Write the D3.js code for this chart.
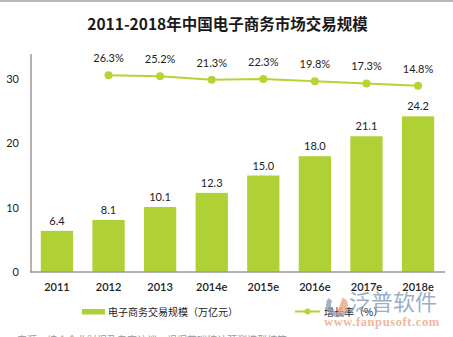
<!DOCTYPE html>
<html><head><meta charset="utf-8">
<script src="https://cdn.jsdelivr.net/npm/d3@7"></script>
<style>body{margin:0;background:#fff;overflow:hidden}</style></head><body>
<script>
const title = "2011-2018年中国电子商务市场交易规模";
const categories = ["2011","2012","2013","2014e","2015e","2016e","2017e","2018e"];
const scaleValues = [6.4, 8.1, 10.1, 12.3, 15.0, 18.0, 21.1, 24.2];
const growthCategories = ["2012","2013","2014e","2015e","2016e","2017e","2018e"];
const growthValues = [26.3, 25.2, 21.3, 22.3, 19.8, 17.3, 14.8];
const yTicks = [0, 10, 20, 30];
const legendLabels = ["电子商务交易规模（万亿元）", "增长率（%）"];

const W = 453, H = 337;
const barColor = "#afd136", lineColor = "#b5d435";
const numFont = "Lato, 'Open Sans', sans-serif";
const cjkFont = "'Noto Sans CJK SC', sans-serif";

const svg = d3.select("body").append("svg").attr("width", W).attr("height", H);

// top frame line
svg.append("line").attr("x1",0).attr("x2",W).attr("y1",1).attr("y2",1)
  .attr("stroke","#a0a0a0").attr("stroke-width",1.5);

svg.append("text").attr("x",227.5).attr("y",29.5).attr("text-anchor","middle")
  .attr("font-family",cjkFont).attr("font-weight","bold").attr("font-size",15.5)
  .attr("fill","#1a1a1a").text(title);

const x = d3.scaleBand().domain(categories).range([31, 444]).paddingInner(0.374).paddingOuter(0.19);
const y = d3.scaleLinear().domain([0, 30]).range([272, 79]);
const y2 = d3.scaleLinear().domain([-191.3, 22.2]).range([272, 79]);

// bars
svg.selectAll("rect.bar").data(categories).join("rect").attr("class","bar")
  .attr("x", d => x(d)).attr("width", x.bandwidth())
  .attr("y", (d,i) => y(scaleValues[i])).attr("height", (d,i) => y(0) - y(scaleValues[i]))
  .attr("fill", barColor);

svg.selectAll("text.bl").data(categories).join("text").attr("class","bl")
  .attr("x", d => x(d) + x.bandwidth()/2).attr("y", (d,i) => y(scaleValues[i]) - 6)
  .attr("text-anchor","middle").attr("font-family",numFont).attr("font-size",11)
  .attr("fill","#222").text((d,i) => scaleValues[i].toFixed(1));

// axes
const yAxis = d3.axisLeft(y).tickValues(yTicks).tickSize(0).tickPadding(0).tickFormat(d3.format("d"));
const gy = svg.append("g").attr("transform","translate(19,0)").call(yAxis);
gy.select(".domain").remove();
gy.selectAll("text").attr("font-family",numFont).attr("font-size",11).attr("fill","#222");

svg.append("line").attr("x1",31).attr("x2",31).attr("y1",54).attr("y2",272.5)
  .attr("stroke","#9a9a9a").attr("stroke-width",1.5);

const xAxis = d3.axisBottom(x).tickSize(0).tickPadding(11);
const gx = svg.append("g").attr("transform","translate(0,272)").call(xAxis);
gx.select(".domain").attr("stroke","#9a9a9a").attr("stroke-width",1.5).attr("d","M30,0H445");
gx.selectAll("text").attr("font-family",numFont).attr("font-size",11).attr("font-weight",600).attr("fill","#222");

// growth line
const cx = d => x(d) + x.bandwidth()/2;
const line = d3.line().x(d => cx(d[0])).y(d => y2(d[1]));
const pts = growthCategories.map((c,i) => [c, growthValues[i]]);
svg.append("path").datum(pts).attr("d", line).attr("fill","none")
  .attr("stroke", lineColor).attr("stroke-width", 2);
svg.selectAll("circle.pt").data(pts).join("circle").attr("class","pt")
  .attr("cx", d => cx(d[0])).attr("cy", d => y2(d[1])).attr("r", 4).attr("fill", lineColor);
svg.selectAll("text.gl").data(pts).join("text").attr("class","gl")
  .attr("x", d => cx(d[0])).attr("y", d => y2(d[1]) - 13)
  .attr("text-anchor","middle").attr("font-family",numFont).attr("font-size",11)
  .attr("fill","#222").text(d => d[1].toFixed(1) + "%");

// legend
svg.append("rect").attr("x",82).attr("y",309).attr("width",23).attr("height",5.5).attr("fill",barColor);
svg.append("text").attr("x",108).attr("y",315.5).attr("font-family",cjkFont).attr("font-size",10)
  .attr("fill","#222").text(legendLabels[0]);
svg.append("line").attr("x1",295).attr("x2",320).attr("y1",311.5).attr("y2",311.5)
  .attr("stroke",lineColor).attr("stroke-width",2);
svg.append("circle").attr("cx",307.5).attr("cy",311.5).attr("r",3).attr("fill",lineColor);
svg.append("text").attr("x",324).attr("y",315.5).attr("font-family",cjkFont).attr("font-size",10)
  .attr("fill","#222").text(legendLabels[1]);

// watermark
const wm = svg.append("g").attr("opacity",0.75);
wm.append("path").attr("d", d3.arc()({innerRadius:7, outerRadius:12, startAngle:-0.3*Math.PI, endAngle:-1.35*Math.PI}))
  .attr("transform","translate(338,305)").attr("fill","#8c9aae");
wm.append("path").attr("d", d3.arc()({innerRadius:0, outerRadius:8, startAngle:0.1*Math.PI, endAngle:1.1*Math.PI}))
  .attr("transform","translate(340,305)").attr("fill","#e9a27f");
wm.append("text").attr("x",349).attr("y",309.5).attr("font-family",cjkFont).attr("font-size",22)
  .attr("fill","#7d93b3").text("泛普软件");
wm.append("text").attr("x",324).attr("y",326).attr("font-family","'Liberation Serif', serif").attr("font-size",12.5)
  .attr("font-weight","bold").attr("fill","#ec9f7c").attr("letter-spacing",0.6).text("www.fanpusoft.com");

// cut-off source note (only its top shows, as in the reference)
svg.append("text").attr("x",17).attr("y",344).attr("font-family",cjkFont).attr("font-size",10)
  .attr("fill","#999").text("来源：综合企业财报及专家访谈，根据艾瑞统计预测模型核算。");
</script></body></html>
